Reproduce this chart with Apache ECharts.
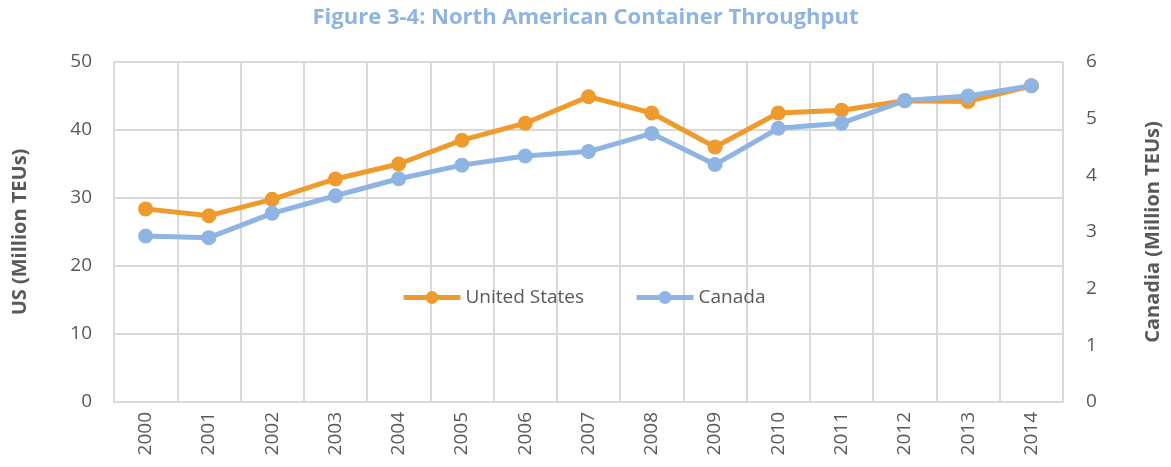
<!DOCTYPE html>
<html>
<head>
<meta charset="utf-8">
<script src="https://cdn.jsdelivr.net/npm/echarts@6/dist/echarts.min.js"></script>
<style>
  html, body { margin: 0; padding: 0; background: #fff; }
  #chart { width: 1171px; height: 467px; }
</style>
</head>
<body>
<div id="chart"></div>
<script>
// 年份
const years = ['2000', '2001', '2002', '2003', '2004', '2005', '2006', '2007',
  '2008', '2009', '2010', '2011', '2012', '2013', '2014']
// 美国 (百万 TEU)
const usTeus = [28.4, 27.4, 29.8, 32.8, 35.0, 38.5, 41.0, 44.9, 42.5, 37.5, 42.5, 42.9, 44.3, 44.2, 46.5]
// 加拿大 (百万 TEU)
const canadaTeus = [2.93, 2.90, 3.33, 3.64, 3.94, 4.18, 4.34, 4.42, 4.74, 4.19, 4.83, 4.92, 5.32, 5.40, 5.58]

const orange = '#EF9A2D'
const blue = '#8DB4E2'
const textGrey = '#595959'
const gridGrey = '#D9D9D9'
const font = 'Open Sans'

const chart = echarts.init(document.getElementById('chart'))

const option = {
  animation: false,
  backgroundColor: '#fff',
  title: {
    text: 'Figure 3-4: North American Container Throughput',
    left: 'center',
    top: 2,
    textStyle: {
      color: blue,
      fontFamily: font,
      fontWeight: 'bold',
      fontSize: 22
    }
  },
  legend: {
    data: ['United States', 'Canada'],
    left: 396,
    top: 283,
    itemWidth: 57,
    itemHeight: 16,
    itemGap: 50,
    lineStyle: { width: 5 },
    textStyle: {
      color: textGrey,
      fontFamily: font,
      fontSize: 19
    }
  },
  grid: {
    left: 114,
    right: 96,
    top: 62,
    bottom: 65,
    containLabel: false
  },
  xAxis: {
    type: 'category',
    data: years,
    boundaryGap: true,
    axisLine: { show: true, lineStyle: { color: gridGrey, width: 2 } },
    axisTick: { show: false },
    axisLabel: {
      rotate: 90,
      color: textGrey,
      fontFamily: font,
      fontSize: 19,
      margin: 10,
      interval: 0
    },
    splitLine: {
      show: true,
      interval: 0,
      lineStyle: { color: gridGrey, width: 2 }
    }
  },
  yAxis: [
    {
      type: 'value',
      min: 0,
      max: 50,
      interval: 10,
      name: 'US (Million TEUs)',
      nameLocation: 'middle',
      nameGap: 84,
      nameTextStyle: {
        color: textGrey,
        fontFamily: font,
        fontWeight: 'bold',
        fontSize: 20
      },
      axisLine: { show: false },
      axisTick: { show: false },
      axisLabel: {
        color: textGrey,
        fontFamily: font,
        fontSize: 19,
        margin: 22
      },
      splitLine: { lineStyle: { color: gridGrey, width: 2 } }
    },
    {
      type: 'value',
      min: 0,
      max: 6,
      interval: 1,
      name: 'Canadia (Million TEUs)',
      nameLocation: 'middle',
      nameGap: 80,
      nameTextStyle: {
        color: textGrey,
        fontFamily: font,
        fontWeight: 'bold',
        fontSize: 20
      },
      axisLine: { show: false },
      axisTick: { show: false },
      axisLabel: {
        color: textGrey,
        fontFamily: font,
        fontSize: 19,
        margin: 23
      },
      splitLine: { show: false }
    }
  ],
  series: [
    {
      name: 'United States',
      type: 'line',
      yAxisIndex: 0,
      data: usTeus,
      symbol: 'circle',
      symbolSize: 15,
      lineStyle: { color: orange, width: 5 },
      itemStyle: { color: orange }
    },
    {
      name: 'Canada',
      type: 'line',
      yAxisIndex: 1,
      data: canadaTeus,
      symbol: 'circle',
      symbolSize: 15,
      lineStyle: { color: blue, width: 5 },
      itemStyle: { color: blue }
    }
  ]
}

chart.setOption(option)
</script>
</body>
</html>
